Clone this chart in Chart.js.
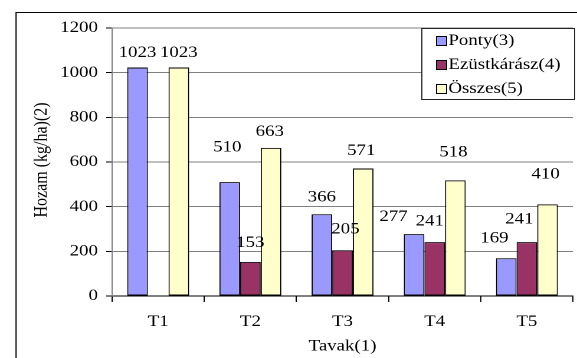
<!DOCTYPE html>
<html>
<head>
<meta charset="utf-8">
<script src="https://cdn.jsdelivr.net/npm/chart.js@4/dist/chart.umd.min.js"></script>
<style>
  html, body { margin: 0; padding: 0; background: #fff; overflow: hidden; }
  /* the drawing surface is laid out narrower and widened to the page width */
  #c { display: block; width: 577px !important; height: 358px !important; }
</style>
</head>
<body>
<canvas id="c" width="489" height="358"></canvas>
<script>
// Data
const categories = ['T1', 'T2', 'T3', 'T4', 'T5'];
const seriesNames = ['Ponty(3)', 'Ezüstkárász(4)', 'Összes(5)'];
const ponty = [1023, 510, 366, 277, 169];
const ezustkarasz = [null, 153, 205, 241, 241];
const osszes = [1023, 663, 571, 518, 410];
const yTickValues = [0, 200, 400, 600, 800, 1000, 1200];
const xTitle = 'Tavak(1)';
const yTitle = 'Hozam (kg/ha)(2)';

const FONT = "'Liberation Serif', 'Times New Roman', serif";
const colors = ['#9999FF', '#993366', '#FFFFCC'];

// small nudges [dx, dy] for value labels that sit off-centre
const labelNudge = [
  [[0, 1.5], [-2, -19], [0, -1], [-17.4, -1.5], [-10, -4]],
  [null, [0, -3], [2.5, -5], [-4.2, -4.7], [-6.4, -7]],
  [[0, 1.5], [-1.1, 0], [-1.7, -1.5], [-1.7, -12], [-1.7, -14]]
];

const valueLabels = {
  id: 'valueLabels',
  afterDatasetsDraw(chart) {
    const ctx = chart.ctx;
    ctx.save();
    ctx.font = '16px ' + FONT;
    ctx.fillStyle = '#000';
    ctx.textAlign = 'center';
    ctx.textBaseline = 'middle';
    chart.data.datasets.forEach((ds, di) => {
      const meta = chart.getDatasetMeta(di);
      meta.data.forEach((bar, i) => {
        const v = ds.data[i];
        if (v == null) return;
        const n = labelNudge[di][i] || [0, 0];
        ctx.fillText(String(v), bar.x + n[0], bar.y - 16 + n[1]);
      });
    });
    ctx.restore();
  }
};

const frameAndLegend = {
  id: 'frameAndLegend',
  afterDraw(chart) {
    const ctx = chart.ctx;
    ctx.save();
    // outer frame: top and left edges (the rest runs off the page)
    ctx.strokeStyle = '#000';
    ctx.lineWidth = 1;
    ctx.beginPath();
    ctx.moveTo(13.6, chart.height);
    ctx.lineTo(13.6, 12.5);
    ctx.lineTo(chart.width, 12.5);
    ctx.stroke();

    // vertical axis title
    const ys = chart.scales.y;
    ctx.save();
    ctx.translate(35.3, (ys.top + ys.bottom) / 2 - 2);
    ctx.rotate(-Math.PI / 2);
    ctx.font = '16px ' + FONT;
    ctx.fillStyle = '#000';
    ctx.textAlign = 'center';
    ctx.textBaseline = 'middle';
    ctx.fillText(yTitle, 0, 0);
    ctx.restore();

    // legend box
    const bx = 357, by = 28, bw = 130.5, bh = 72;
    ctx.fillStyle = '#fff';
    ctx.fillRect(bx, by, bw, bh);
    ctx.strokeStyle = '#222';
    ctx.strokeRect(bx + 0.5, by + 0.5, bw - 1, bh - 1);
    ctx.font = '16px ' + FONT;
    ctx.textAlign = 'left';
    ctx.textBaseline = 'middle';
    chart.data.datasets.forEach((ds, i) => {
      const cy = by + 13 + i * 24;
      ctx.fillStyle = ds.backgroundColor;
      ctx.fillRect(370, cy - 4.5, 8.5, 9);
      ctx.strokeStyle = '#000';
      ctx.strokeRect(370, cy - 4.5, 8.5, 9);
      ctx.fillStyle = '#000';
      ctx.fillText(ds.label, 380, cy);
    });
    ctx.restore();
  }
};

new Chart(document.getElementById('c'), {
  type: 'bar',
  data: {
    labels: categories,
    datasets: [
      { label: seriesNames[0], data: ponty, backgroundColor: colors[0] },
      { label: seriesNames[1], data: ezustkarasz, backgroundColor: colors[1] },
      { label: seriesNames[2], data: osszes, backgroundColor: colors[2] }
    ].map(d => Object.assign(d, { borderColor: '#000', borderWidth: 1, borderSkipped: false }))
  },
  options: {
    responsive: false,
    animation: false,
    devicePixelRatio: 2,
    categoryPercentage: 0.672,
    barPercentage: 1,
    layout: { padding: { left: 0, right: 3.4, top: 28, bottom: 0 } },
    plugins: { legend: { display: false }, tooltip: { enabled: false } },
    scales: {
      x: {
        grid: { offset: true, drawOnChartArea: false, drawTicks: true, tickLength: 6, tickColor: '#000' },
        border: { color: '#000', width: 1 },
        ticks: { color: '#000', font: { family: FONT, size: 16 }, padding: 10 },
        title: { display: true, text: xTitle, color: '#000', font: { family: FONT, size: 16 }, padding: { top: 0, bottom: 2 } },
        afterFit(scale) { scale.height = 62; }
      },
      y: {
        min: yTickValues[0],
        max: yTickValues[yTickValues.length - 1],
        afterBuildTicks(scale) { scale.ticks = yTickValues.map(v => ({ value: v })); },
        grid: { color: '#808080', lineWidth: 1, drawTicks: true, tickLength: 5, tickColor: '#000' },
        border: { color: '#808080', width: 1 },
        ticks: { color: '#000', font: { family: FONT, size: 16 }, padding: 7, callback: v => String(v) },
        title: { display: false },
        afterFit(scale) { scale.width = 95; }
      }
    }
  },
  plugins: [valueLabels, frameAndLegend]
});
</script>
</body>
</html>
